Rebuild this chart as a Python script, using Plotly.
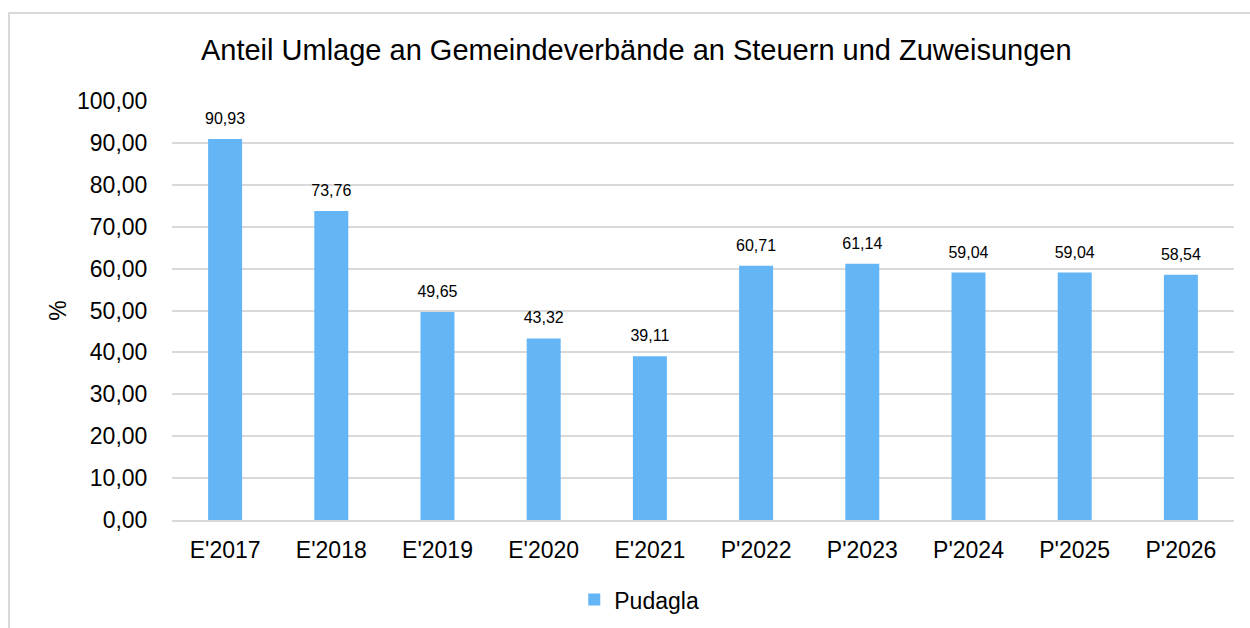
import plotly.graph_objects as go

categories = ["E'2017", "E'2018", "E'2019", "E'2020", "E'2021",
              "P'2022", "P'2023", "P'2024", "P'2025", "P'2026"]
values = [90.93, 73.76, 49.65, 43.32, 39.11, 60.71, 61.14, 59.04, 59.04, 58.54]
series_name = "Pudagla"
y_ticks = [0, 10, 20, 30, 40, 50, 60, 70, 80, 90, 100]

FONT = "Liberation Sans, Arial, Helvetica, sans-serif"
BAR = "#64B5F6"

fig = go.Figure()
fig.add_trace(go.Bar(
    x=categories, y=values, name=series_name,
    marker=dict(color=BAR, line=dict(width=0)),
))
# data labels (offset above bars via invisible marker)
fig.add_trace(go.Scatter(
    x=categories, y=values, mode="markers+text", showlegend=False,
    marker=dict(size=16, color="rgba(0,0,0,0)"),
    texttemplate="%{y:.2f}", textposition="top center",
    textfont=dict(size=16, color="#000000", family=FONT),
    cliponaxis=False, hoverinfo="skip",
))

fig.update_layout(
    width=1250, height=628,
    separators=",.",
    paper_bgcolor="white", plot_bgcolor="white",
    font=dict(family=FONT, color="#000000"),
    margin=dict(l=172, r=16, t=101, b=108, autoexpand=False),
    bargap=0.68,
    title=dict(text="Anteil Umlage an Gemeindeverbände an Steuern und Zuweisungen",
               x=0.509, xanchor="center", y=0.921, yanchor="middle",
               font=dict(size=29, family=FONT, color="#000000")),
    showlegend=True,
    legend=dict(orientation="h", x=0.44, xanchor="center", y=-0.19, yanchor="middle",
                font=dict(size=23, family=FONT), itemwidth=30),
    xaxis=dict(range=[-0.5, len(categories) - 0.5],
               showgrid=False, showline=True, linecolor="#D9D9D9", linewidth=2,
               tickfont=dict(size=23, family=FONT), ticks="outside", ticklen=8,
               tickcolor="white"),
    yaxis=dict(range=[0, 100], tickvals=y_ticks, tickformat=".2f",
               showgrid=True, gridcolor="#D9D9D9", gridwidth=2,
               zeroline=False, showline=False,
               tickfont=dict(size=23, family=FONT),
               ticks="outside", ticklen=19, tickcolor="white",
               title=dict(text="%", font=dict(size=23, family=FONT), standoff=3)),
    shapes=[dict(type="rect", xref="paper", yref="paper",
                 x0=-163/1062, x1=1.2, y0=-0.6, y1=1 + 88/419,
                 line=dict(color="#D9D9D9", width=2), fillcolor="rgba(0,0,0,0)",
                 layer="below")],
)

fig.write_html("out.html", config={"displayModeBar": False},
               post_script="document.body.style.margin='0';")
